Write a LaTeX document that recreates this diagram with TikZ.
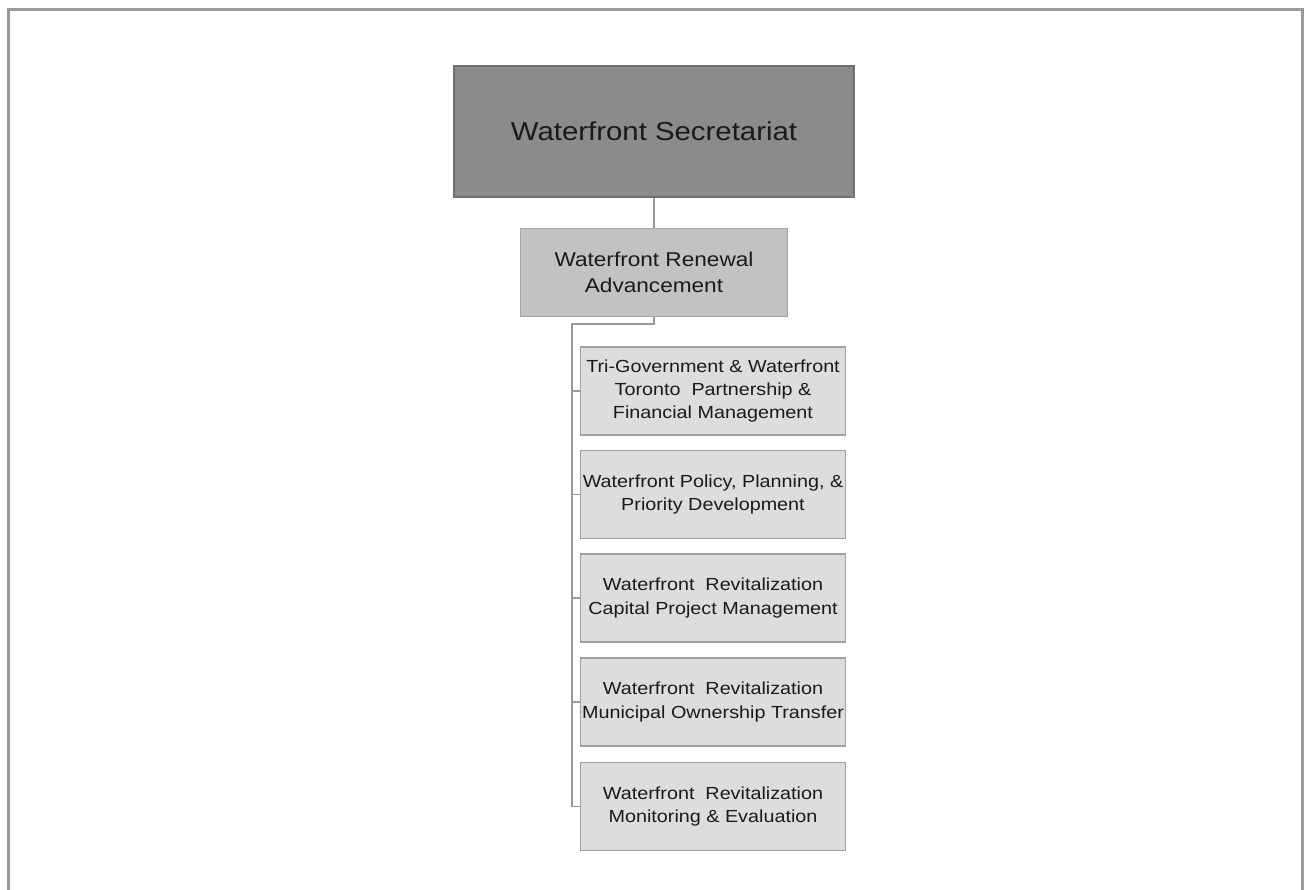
\documentclass[tikz,border=0pt]{standalone}
\usepackage{fontspec}
\setmainfont[FakeStretch=1.13]{Liberation Sans}
\definecolor{frame}{HTML}{999999}
\definecolor{topfill}{HTML}{8B8B8B}
\definecolor{topdraw}{HTML}{707070}
\definecolor{midfill}{HTML}{C2C2C2}
\definecolor{middraw}{HTML}{A5A5A5}
\definecolor{subfill}{HTML}{DDDDDD}
\definecolor{subdraw}{HTML}{A0A0A0}
\definecolor{conn}{HTML}{9C9894}
\definecolor{txt}{HTML}{1A1A1A}
\tikzset{
  topbox/.style={draw=topdraw, fill=topfill, line width=2pt, minimum width=400pt, minimum height=131pt, inner sep=0pt, text=txt, font=\fontsize{26}{30}\selectfont},
  midbox/.style={draw=middraw, fill=midfill, line width=1.5pt, minimum width=267pt, minimum height=88pt, inner sep=0pt, align=center, text=txt, font=\fontsize{20}{26}\selectfont},
  subbox/.style={draw=subdraw, fill=subfill, line width=1.5pt, minimum width=265pt, minimum height=88pt, inner sep=0pt, align=center, text=txt, font=\fontsize{17.5}{23.3}\selectfont},
  connector/.style={draw=conn, line width=1.5pt}
}
\begin{document}
\begin{tikzpicture}[x=1pt,y=-1pt]
\useasboundingbox (0,0) rectangle (1304,890);
\fill[white] (0,0) rectangle (1304,890);
\draw[frame, line width=3pt] (8.5,890) -- (8.5,9.5) -- (1302.5,9.5) -- (1302.5,890);
\node[topbox] (sec) at (654,131.5) {Waterfront Secretariat};
\node[midbox] (wra) at (654,272.5) {Waterfront Renewal\\Advancement};
\node[subbox] (b1) at (713,391) {Tri-Government \& Waterfront\\Toronto\ \ Partnership \&\\Financial Management};
\node[subbox] (b2) at (713,494.5) {Waterfront Policy, Planning, \&\\Priority Development};
\node[subbox] (b3) at (713,598) {Waterfront\ \ Revitalization\\Capital Project Management};
\node[subbox] (b4) at (713,702) {Waterfront\ \ Revitalization\\Municipal Ownership Transfer};
\node[subbox] (b5) at (713,806.5) {Waterfront\ \ Revitalization\\Monitoring \& Evaluation};
\coordinate (trunk) at (572,324);
\draw[connector] (sec.south) -- (wra.north);
\draw[connector] (wra.south) |- (trunk) -- (trunk |- b5.west);
\foreach \b in {b1,b2,b3,b4,b5} {
  \draw[connector] (trunk |- \b.west) -- (\b.west);
}
\end{tikzpicture}
\end{document}
